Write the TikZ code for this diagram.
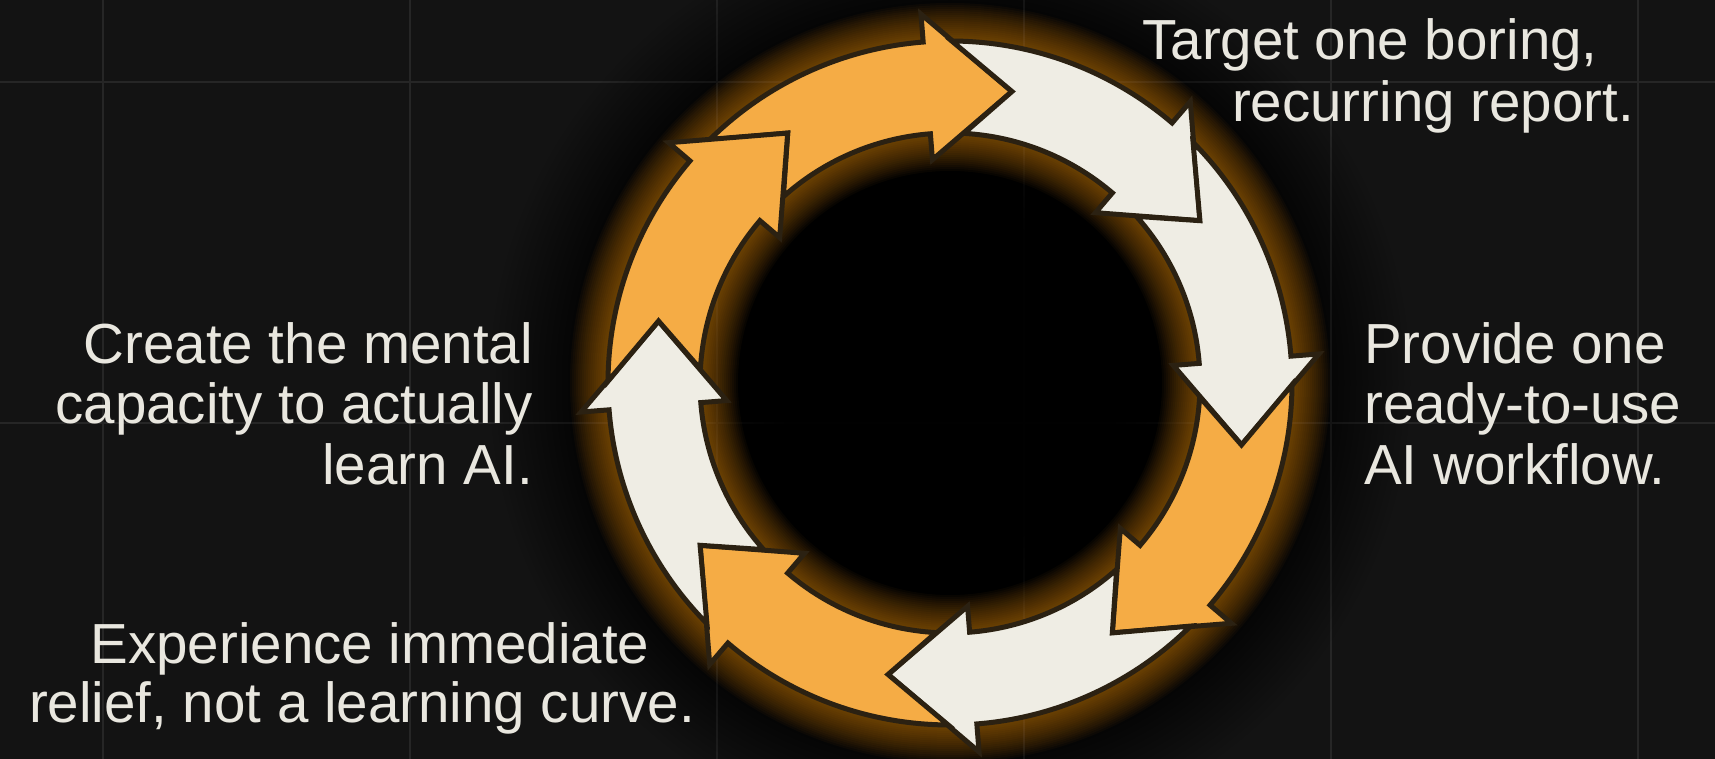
\documentclass[tikz,border=0pt]{standalone}
\usepackage{fontspec}
\setmainfont{Liberation Sans}
\begin{document}
\begin{tikzpicture}[x=1pt,y=1pt]
\definecolor{bg}{HTML}{131313}
\definecolor{gridc}{HTML}{262626}
\definecolor{amber}{HTML}{F5AC45}
\definecolor{cream}{HTML}{EFEDE4}
\definecolor{rim}{HTML}{2B2112}
\definecolor{glowc}{HTML}{E8901E}
\definecolor{labelc}{HTML}{E9E7DF}
\tikzset{
  gridline/.style={draw=gridc, line width=1.5pt},
  arrowseg/.style={draw=rim, line width=5pt, line join=miter},
  lbl/.style={text=labelc, font=\fontsize{56.5}{60}\selectfont, inner sep=0pt},
}
\useasboundingbox (0,0) rectangle (1715,759);
\fill[bg] (0,0) rectangle (1715,759);
% background grid
\foreach \gx in {103,410,717,1024,1331,1638}
  \draw[gridline] (\gx,0) -- (\gx,759);
\foreach \gy in {677,336}
  \draw[gridline] (0,\gy) -- (1715,\gy);

\begin{scope}[shift={(950,376)}]
  % dark halo around the ring and the dark hole inside it
  \foreach \r in {346,352,...,460}
    \fill[black, opacity=0.035] (0,0) circle (\r pt);
  \foreach \r in {250,240,...,170}
    \fill[black, opacity=0.12] (0,0) circle (\r pt);
  % warm glow along the ring
  \foreach \w in {96,100,...,168}
    \draw[glowc, opacity=0.035, line width=\w pt] (0,0) circle (296pt);
  % eight curved arrows, clockwise, each tail notched to fit the head before it
  \foreach \t/\c in {78/amber, 33/cream, -12/cream, -57/amber, -102/cream, -147/amber, -192/cream, -237/amber} {
    \pgfmathsetmacro\b{\t+16.5}
    \pgfmathsetmacro\so{\t+56.7}
    \pgfmathsetmacro\si{\t+53.8}
    \pgfmathsetmacro\n{\t+45}
    \filldraw[arrowseg, fill=\c]
      (\so:342pt) arc[start angle=\so, end angle=\b, radius=342pt]
      -- (\b:370pt) -- (\t:298pt) -- (\b:224pt) -- (\b:250pt)
      arc[start angle=\b, end angle=\si, radius=250pt]
      -- (\n:298pt) -- cycle;
  }
\end{scope}

% labels
\node[lbl, anchor=base] (tA) at (1370,699) {Target one boring,};
\node[lbl, anchor=base] (tB) at (1433,637) {recurring report.};
\node[lbl, anchor=base east] (cA) at (533,395) {Create the mental};
\node[lbl, anchor=base east] (cB) at (533,335) {capacity to actually};
\node[lbl, anchor=base east] (cC) at (533,274) {learn AI.};
\node[lbl, anchor=base west] (pA) at (1364,395) {Provide one};
\node[lbl, anchor=base west] (pB) at (1364,335) {ready-to-use};
\node[lbl, anchor=base west] (pC) at (1364,274) {AI workflow.};
\node[lbl, anchor=base] (eA) at (370,95) {Experience immediate};
\node[lbl, anchor=base] (eB) at (362,36) {relief, not a learning curve.};
\end{tikzpicture}
\end{document}
